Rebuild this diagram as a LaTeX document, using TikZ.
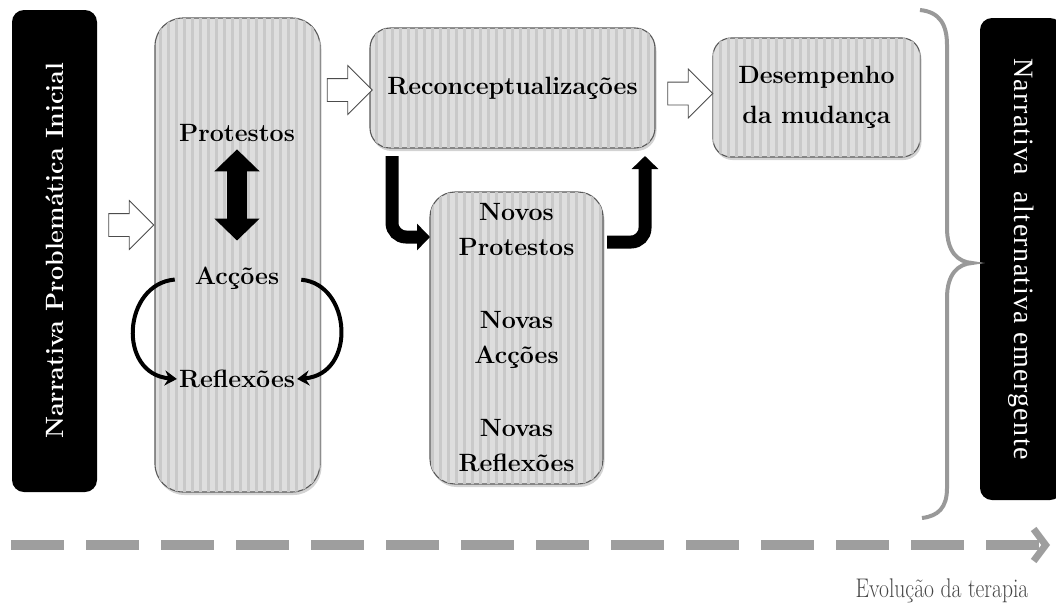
\documentclass[tikz,border=0pt]{standalone}
\usepackage{fontspec}
\newfontfamily\altfont[LetterSpace=5]{Liberation Serif}
\usetikzlibrary{arrows.meta, shapes.arrows, shadows, patterns.meta}
\newcommand{\boxfont}{\fontsize{25}{35}\selectfont\bfseries}

\begin{document}
\begin{tikzpicture}[x=1pt, y=-1pt,
    stage/.style={draw=black!65, line width=1.1pt, rounded corners=#1, inner sep=0pt, outer sep=0pt,
        drop shadow={shadow xshift=1.5pt, shadow yshift=-3pt, opacity=0.35}, fill=black!13,
        postaction={pattern={Lines[angle=90, distance=8pt, line width=3pt]}, pattern color=black!21},
        font=\boxfont, align=center},
    blackbar/.style={fill=black, text=white, rounded corners=12pt, inner sep=0pt, outer sep=0pt},
    word/.style={font=\boxfont, inner sep=2pt},
    hollow/.style={single arrow, draw=black!70, fill=white, line width=0.8pt, inner xsep=8pt,
        inner ysep=11pt, single arrow head extend=13pt, minimum height=45pt},
    bigarrow/.style={line width=20pt, arrows={Triangle[width=44pt, length=22pt]-Triangle[width=44pt, length=22pt]}},
    elbow/.style={line width=13pt, rounded corners=14pt, -{Triangle[width=26pt, length=13pt]}},
    loopy/.style={line width=4pt, -{Stealth[width=15pt, length=12pt]}},
    timeline/.style={draw=black!38, line width=10pt, dash pattern=on 53pt off 22pt,
        -{Straight Barb[length=12pt, width=32pt, line width=7pt]}}]

    \useasboundingbox (0,0) rectangle (1056,611);

    \node[blackbar, rotate=90, minimum width=482pt, minimum height=85pt,
        font=\fontsize{25}{25}\selectfont\bfseries] (inicial) at (54.5,251) {Narrativa Problemática Inicial};
    \node[blackbar, rotate=-90, minimum width=482pt, minimum height=82pt,
        font=\altfont\fontsize{28}{28}\selectfont] (alt) at (1021,259) {Narrativa\ \ alternativa emergente};

    \node[stage=28pt, minimum width=165pt, minimum height=474pt] (ciclo) at (237.5,255) {};
    \node[stage=20pt, minimum width=285pt, minimum height=120pt] (recon) at (512.5,88) {Reconceptualizações};
    \node[stage=18pt, minimum width=207pt, minimum height=119pt] (desemp) at (816.5,97.5) {Desempenho\\[5pt]da mudança};
    \node[stage=25pt, minimum width=173pt, minimum height=292pt] (novos) at (516.5,338)
        {Novos\\Protestos\\[38pt]Novas\\Acções\\[38pt]Novas\\Reflexões};

    \node[word] (prot) at (237,132.5) {Protestos};
    \node[word] (acc) at (237,278) {Acções};
    \node[word] (refl) at (237,379) {Reflexões};

    \node[hollow] (h1) at (125.5,225) {};
    \node[hollow] (h2) at (344,90) {};
    \node[hollow] (h3) at (684.5,93.5) {};

    \draw[bigarrow, shorten <=6pt, shorten >=24pt] (prot) -- (acc);
    \draw[loopy, shorten <=18pt] (acc.west) .. controls +(-70,6) and +(-60,-5) .. (refl.west);
    \draw[loopy, shorten <=20pt] (acc.east) .. controls +(70,6) and +(60,-5) .. (refl.east);

    \draw[elbow, shorten <=8pt] ([xshift=22pt]recon.south west) |- ([yshift=-45pt]novos.north west);
    \draw[elbow, shorten <=4pt, shorten >=8pt] ([yshift=-50pt]novos.north east) -| ([xshift=-10pt]recon.south east);

    \draw[draw=black!40, line width=4pt] (920,10) .. controls (940,12) and (947,25) .. (947,45) -- (947,228)
        .. controls (947,252) and (958,262) .. (972,263) .. controls (958,264) and (947,274) .. (947,298)
        -- (947,488) .. controls (947,508) and (938,516) .. (922,518);

    \coordinate (start) at (11,545);
    \coordinate (end) at (1050,545);
    \draw[timeline] (start) -- (end);

    \node[font=\fontsize{27}{27}\selectfont, text=black!72] (evol) at (942,591) {\scalebox{0.8}[1]{Evolução da terapia}};
\end{tikzpicture}
\end{document}
